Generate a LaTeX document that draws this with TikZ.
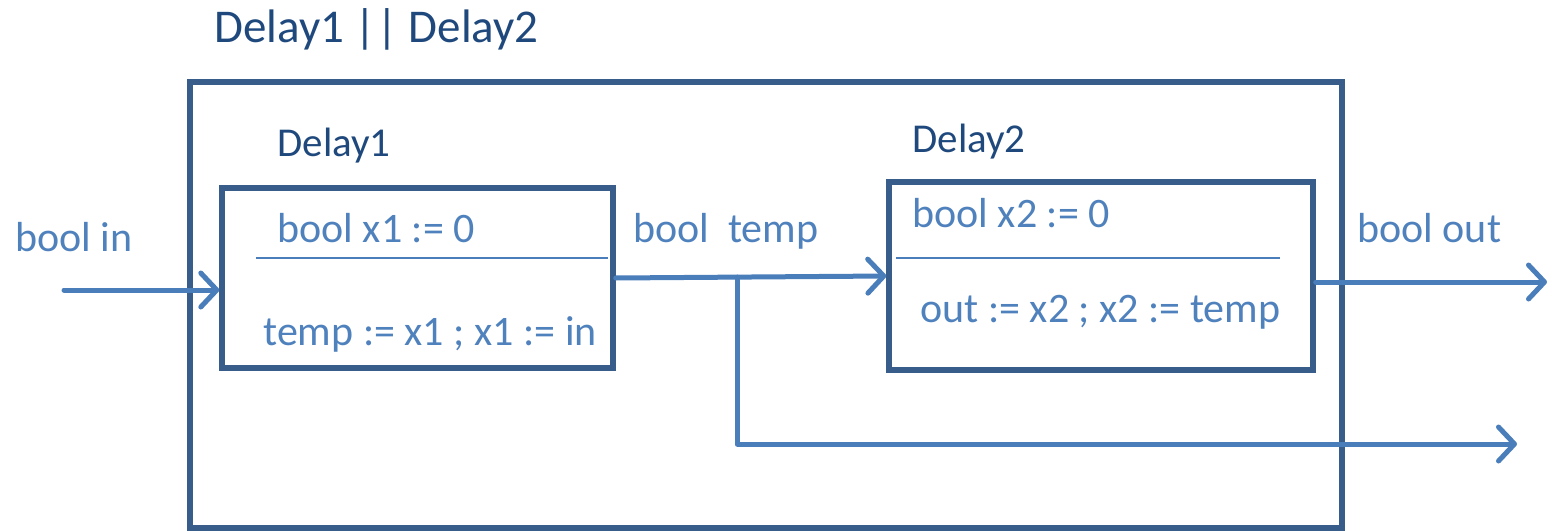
\documentclass[tikz,border=0pt]{standalone}
\usepackage{fontspec}
\setmainfont{Carlito}
\usetikzlibrary{arrows.meta,calc}
\definecolor{boxline}{HTML}{385D8A}
\definecolor{wire}{HTML}{4A7EBB}
\definecolor{lighttext}{HTML}{4F81BD}
\definecolor{darktext}{HTML}{1F497D}
\tikzset{
  frame/.style={draw=boxline, line width=2.7pt, rectangle, inner sep=0pt},
  wirearrow/.style={draw=wire, line width=2.5pt, line cap=round, line join=round,
    -{Straight Barb[length=8pt, width=17pt, line cap=round, line join=round]}},
  divider/.style={draw=wire, line width=0.8pt},
  body/.style={text=lighttext, font=\fontsize{21}{24}\selectfont, inner sep=0pt, anchor=base west},
  heading/.style={text=darktext, font=\fontsize{20.5}{24}\selectfont, inner sep=0pt, anchor=base west},
  title/.style={text=darktext, font=\fontsize{23.5}{27}\selectfont, inner sep=0pt, anchor=base west},
}
\begin{document}
\begin{tikzpicture}[x=0.5pt, y=-0.5pt]
\useasboundingbox (0,0) rectangle (1552,530);

% enclosing composite block
\node[frame, minimum width=576pt, minimum height=223pt] (outer) at (766,305) {};
\node[title] (ttl) at (214,42) {Delay1 {|}{|} Delay2};

% first delay block
\node[frame, minimum width=195.5pt, minimum height=90pt] (d1) at (417.5,278) {};
\node[heading] (d1name) at (277,156) {Delay1};
\node[body] (d1decl) at (277,242) {bool x1 := 0};
\node[body] (d1body) at (263,345) {temp := x1 ; x1 := in};
\coordinate (d1divl) at (256,258);
\coordinate (d1divr) at (608,258);
\draw[divider] (d1divl) -- (d1divr);

% second delay block
\node[frame, minimum width=212pt, minimum height=94pt] (d2) at (1101,276) {};
\node[heading] (d2name) at (912,152) {Delay2};
\node[body] (d2decl) at (912,227) {bool x2 := 0};
\node[body] (d2body) at (920,322) {out := x2 ; x2 := temp};
\coordinate (d2divl) at (896,258);
\coordinate (d2divr) at (1280,258);
\draw[divider] (d2divl) -- (d2divr);

% signal labels
\node[body] (lin) at (15,251) {bool in};
\node[body] (ltemp) at (633,242) {bool\ \ temp};
\node[body] (lout) at (1357,242) {bool out};

% connectors
\coordinate (inp) at (64,290);
\draw[wirearrow] (inp) -- (inp -| d1.west);

\coordinate (br) at ($(d1.east)!0.449!(d2.west)$);
\draw[wirearrow] (d1.east) -- (d2.west);

\coordinate (outtip) at (1547,282);
\draw[wirearrow] (outtip -| d2.east) -- (outtip);

\coordinate (tail) at (1517,444);
\draw[wirearrow] (br) |- (tail);
\end{tikzpicture}
\end{document}
